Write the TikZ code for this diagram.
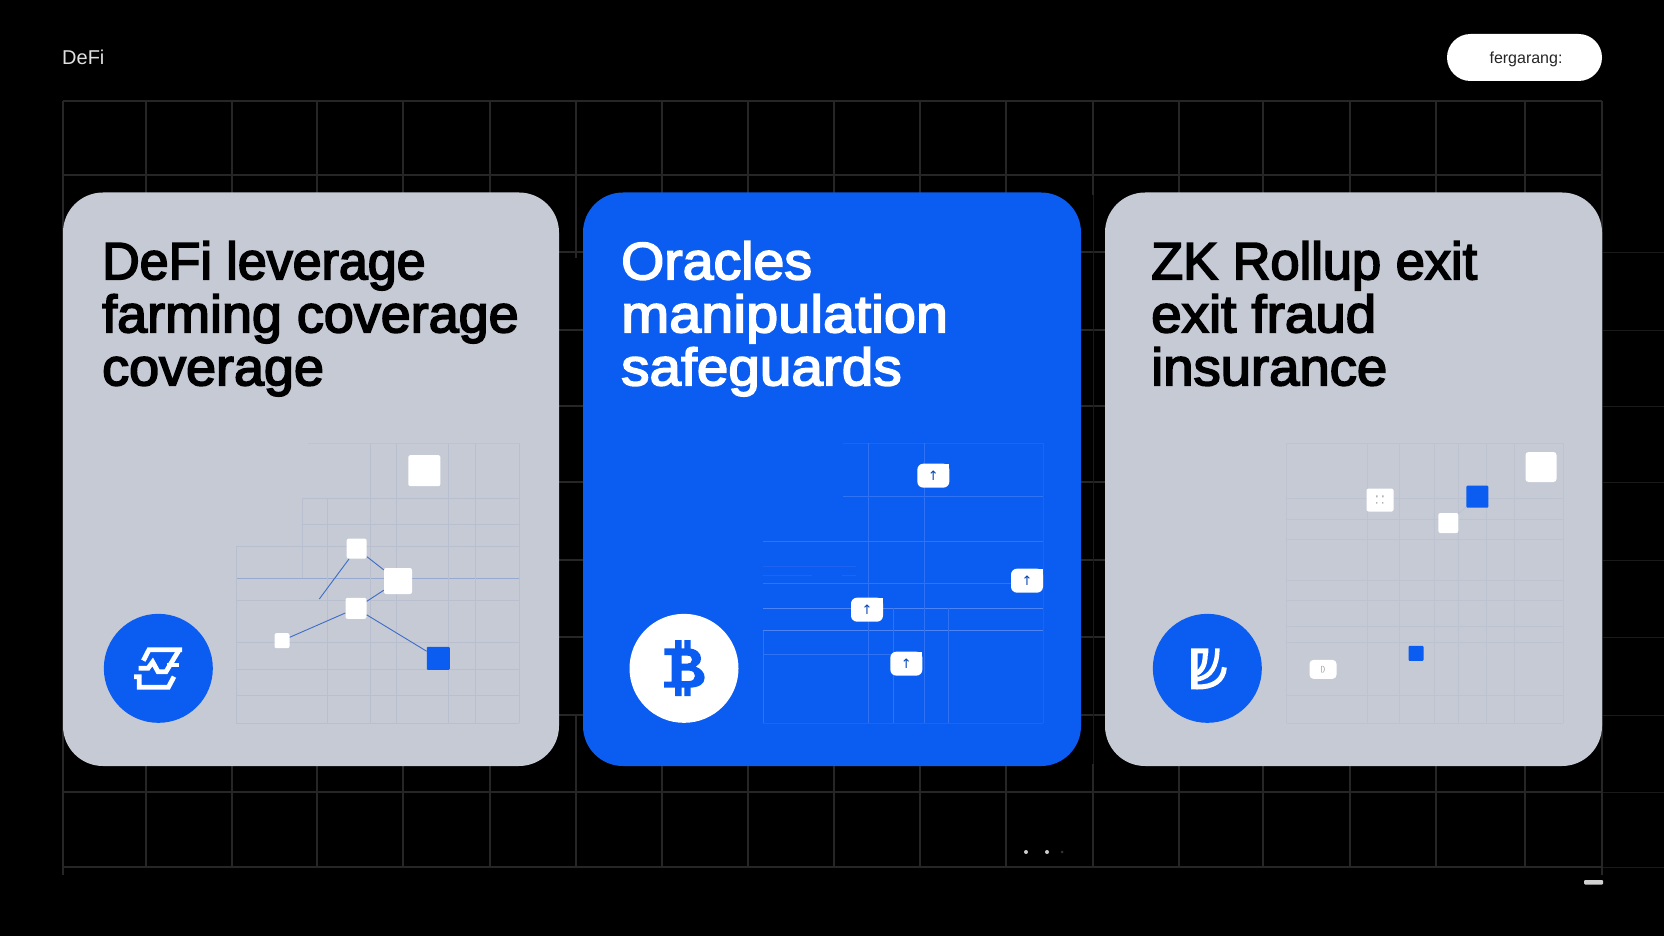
\documentclass[tikz,border=0pt]{standalone}
\usepackage{fontspec}
\setmainfont{Liberation Sans}
\newfontfamily\titlefont{Liberation Sans}
\newcommand{\stw}[2]{{\addfontfeature{FakeStretch=#1,FakeBold=3.2}#2}}
\newfontfamily\arrowfont{DejaVu Sans}
\definecolor{cardgray}{HTML}{C5CAD5}
\definecolor{cardblue}{HTML}{0B5CF0}
\definecolor{bggrid}{HTML}{262626}
\definecolor{bgfaint}{HTML}{1A1A1A}
\definecolor{minigray}{HTML}{B9BFCF}
\definecolor{minigrayfaint}{HTML}{BDC3D1}
\definecolor{miniblue}{HTML}{2F72F4}
\definecolor{minibluestrong}{HTML}{4C84F5}
\definecolor{minibluefaint}{HTML}{1C64F1}
\definecolor{linkblue}{HTML}{3F6CC6}
\tikzset{
  x=1pt,y=-1pt,
  bgline/.style={bggrid,line width=1.1pt},
  bglinefaint/.style={bgfaint,line width=1pt},
  cardshape/.style={rounded corners=40pt},
  titletext/.style={anchor=north west,inner sep=0pt,align=left,font=\titlefont\fontsize{52.6}{53}\selectfont},
  minigrid/.style={minigray,line width=0.6pt},
  minigridfaint/.style={minigrayfaint,line width=0.6pt},
  bluegrid/.style={miniblue,line width=0.7pt},
  bluegridstrong/.style={minibluestrong,line width=0.9pt},
  bluegridfaint/.style={minibluefaint,line width=0.6pt},
  squarewhite/.style={fill=white,rounded corners=2pt,inner sep=0pt},
  squareblue/.style={fill=cardblue,rounded corners=1pt,inner sep=0pt},
  link/.style={linkblue,line width=0.9pt},
  iconline/.style={white,line width=4.8pt,line cap=butt,line join=miter},
  arrowlabel/.style={inner sep=0pt,text=cardblue!75!black,font=\arrowfont\fontsize{13}{13}\selectfont},
}
\newcommand{\tagbox}[3]{%
  \fill[white,rounded corners=6pt] (#2-48,#3-36) rectangle (#2+48,#3+36);
  \fill[white] (#2+15,#3-36) rectangle (#2+48,#3-5);
  \node[arrowlabel] (#1) at (#2,#3) {↑};}
\begin{document}
\begin{tikzpicture}
\useasboundingbox (0,0) rectangle (1664,936);
\fill[black] (0,0) rectangle (1664,936);

% background grid
\foreach \yy in {101,175} \draw[bgline] (63,\yy) -- (1602,\yy);
\foreach \yy in {252,330,406,482,560,637,715,792,867} {
  \draw[bgline] (63,\yy) -- (1602,\yy);
  \draw[bglinefaint] (1602,\yy) -- (1664,\yy);}
\foreach \xx in {146,232,317,403,490,662,748,834,920,1006,1179,1263,1350,1436,1525}
  \draw[bgline] (\xx,101) -- (\xx,867);
\draw[bgline] (63,101) -- (63,875);
\draw[bgline] (1602,101) -- (1602,875);
\draw[bgline] (576,101) -- (576,258);
\draw[bgline] (576,715) -- (576,867);
\draw[bgline] (1093,101) -- (1093,195);
\draw[bglinefaint] (1093,195) -- (1093,764);
\draw[bgline] (1093,764) -- (1093,867);

% header
\node[anchor=base west,inner sep=0pt,text=white!88!black,font=\fontsize{20}{20}\selectfont] (brand) at (62,65) {DeFi};
\fill[white] (1447,34) [rounded corners=23.5pt] rectangle (1602,81);
\node[inner sep=0pt,text=black!85,font=\fontsize{16}{16}\selectfont] (pilltext) at (1526,59) {fergarang:};

% cards
\fill[cardgray,cardshape] (63,192.5) rectangle (559,766);
\fill[cardblue,cardshape] (583,192.5) rectangle (1081,766);
\fill[cardgray,cardshape] (1105,192.5) rectangle (1602,766);

\node[titletext,text=black] (t1) at (102,241) {\stw{.988}{DeFi leverage}\\\stw{1.025}{farming coverage}\\\stw{1.025}{coverage}};
\node[titletext,text=white] (t2) at (621,241) {\stw{1.053}{Oracles}\\\stw{1.096}{manipulation}\\\stw{1.078}{safeguards}};
\node[titletext,text=black] (t3) at (1151,241) {\stw{.996}{ZK Rollup exit}\\\stw{1.04}{exit fraud}\\\stw{1.035}{insurance}};

% ---- card 1 detail (local units = 1/3 px)
\begin{scope}[shift={(80,420)},scale=1/3]
  \draw[minigridfaint] (685,70) -- (1318,70);
  \foreach \yy in {235,312} \draw[minigrid] (668,\yy) -- (1318,\yy);
  \foreach \yy in {378,540,668,748,826,910} \draw[minigrid] (468,\yy) -- (1318,\yy);
  \draw[minigrid,linkblue!35!cardgray] (468,475) -- (1318,475);
  \draw[minigrid] (468,378) -- (468,910);
  \draw[minigrid] (668,235) -- (668,475);
  \draw[minigrid] (742,235) -- (742,910);
  \foreach \xx in {870,948,1106,1187,1318} \draw[minigrid] (\xx,70) -- (\xx,910);
  \node[squarewhite,minimum width=32pt,minimum height=31pt] (n1big) at (1033,152) {};
  \node[squarewhite,minimum width=20pt,minimum height=20pt] (n1a) at (830,386) {};
  \node[squarewhite,minimum width=28pt,minimum height=26pt] (n1b) at (954,483) {};
  \node[squarewhite,minimum width=21pt,minimum height=21pt] (n1c) at (828,565) {};
  \node[squarewhite,minimum width=15pt,minimum height=15pt] (n1d) at (606,662) {};
  \node[squareblue,minimum width=23pt,minimum height=23pt] (n1e) at (1075,715) {};
  \coordinate (n1free) at (718,537);
  \draw[link] (n1a) -- (n1free);
  \draw[link] (n1a) -- (n1b);
  \draw[link] (n1b) -- (n1c);
  \draw[link] (n1d) -- (n1c);
  \draw[link] (n1c) -- (n1e);
  \node[circle,fill=cardblue,minimum size=109pt,inner sep=0pt] (icon1) at (235,745) {};
  \draw[iconline] (306,689) -- (207,689) -- (190,722);
  \draw[iconline] (176,745) -- (204,745) -- (218,726) -- (234,755) -- (258,755) -- (296,692);
  \draw[iconline] (262,735) -- (298,735);
  \draw[iconline] (162,770) -- (178,770) -- (178,802) -- (265,802) -- (282,770);
\end{scope}

% ---- card 2 detail
\begin{scope}[shift={(600,420)},scale=1/3]
  \draw[bluegridfaint] (730,70) -- (1330,70);
  \draw[bluegrid] (730,230) -- (1330,230);
  \draw[bluegrid] (490,365) -- (1330,365);
  \draw[bluegridfaint] (490,438) -- (768,438);
  \draw[bluegridfaint] (490,465) -- (635,465);
  \draw[bluegridfaint] (725,465) -- (768,465);
  \draw[bluegrid] (490,491) -- (1330,491);
  \draw[bluegridstrong] (490,565) -- (1330,565);
  \draw[bluegridstrong] (490,632) -- (1330,632);
  \draw[bluegrid] (490,702) -- (880,702);
  \draw[bluegridfaint] (490,910) -- (1330,910);
  \draw[bluegrid] (490,632) -- (490,910);
  \draw[bluegrid] (805,70) -- (805,910);
  \draw[bluegrid] (880,565) -- (880,910);
  \draw[bluegrid] (973,70) -- (973,910);
  \draw[bluegrid] (1046,565) -- (1046,910);
  \draw[bluegridfaint] (1330,70) -- (1330,910);
  \tagbox{tag1}{1000}{167}
  \tagbox{tag2}{1281}{482}
  \tagbox{tag3}{801}{569}
  \tagbox{tag4}{919}{731}
  \node[circle,fill=white,minimum size=109pt,inner sep=0pt] (icon2) at (252,745) {};
  \fill[cardblue,even odd rule] (193,685) -- (262,685) .. controls (290,685) and (303,700) .. (303,715)
    .. controls (303,728) and (295,736) .. (287,740) .. controls (302,745) and (314,757) .. (314,773)
    .. controls (314,792) and (296,803) .. (268,803) -- (192,803) -- (192,785) -- (215,785) -- (215,705) -- (193,705) -- cycle
    (245,707) -- (262,707) .. controls (272,707) and (276,712) .. (276,719) .. controls (276,727) and (270,731) .. (262,731) -- (245,731) -- cycle
    (245,752) -- (268,752) .. controls (280,752) and (285,760) .. (285,768) .. controls (285,777) and (278,783) .. (268,783) -- (245,783) -- cycle;
  \fill[cardblue] (225,660) rectangle (245,690) (253,660) rectangle (272,690) (225,800) rectangle (245,828) (253,800) rectangle (272,828);
\end{scope}

% ---- card 3 detail
\begin{scope}[shift={(1130,420)},scale=1/3]
  \foreach \yy in {70,235,298,358,482,540,618,668,826,910} \draw[minigridfaint] (470,\yy) -- (1300,\yy);
  \foreach \xx in {470,712,808,912,985,1068,1153,1300} \draw[minigridfaint] (\xx,70) -- (\xx,910);
  \node[squarewhite,rounded corners=3pt,minimum width=31pt,minimum height=30pt] (n3big) at (1233,141) {};
  \node[squareblue,minimum width=22pt,minimum height=22pt] (n3b) at (1042,230) {};
  \node[squarewhite,minimum width=20pt,minimum height=20pt] (n3w) at (955,309) {};
  \draw[minigray,line width=.5pt] (n3w) -- (n3b);
  \node[squarewhite,minimum width=27pt,minimum height=23pt] (n3tag) at (750,240) {};
  \fill[black!30] (738,226) rectangle +(5,6) (756,226) rectangle +(5,6) (738,246) rectangle +(4,5) (756,246) rectangle +(4,5);
  \node[squarewhite,rounded corners=4pt,minimum width=27pt,minimum height=19pt,text=black!45,font=\fontsize{7}{7}\selectfont] (n3tagb) at (579,748) {[)};
  \node[squareblue,minimum width=15pt,minimum height=15pt] (n3s) at (858,700) {};
  \node[circle,fill=cardblue,minimum size=109pt,inner sep=0pt] (icon3) at (232,745) {};
  \fill[white] (183,685) rectangle (203,808) (183,685) rectangle (235,700);
  \draw[white,line width=5pt] (226,695) .. controls (226,725) and (222,748) .. (200,760);
  \draw[white,line width=4.5pt] (262,685) .. controls (262,735) and (245,772) .. (200,778);
  \draw[white,line width=5pt] (283,742) .. controls (280,782) and (250,802) .. (200,801);
\end{scope}

% footer marks
\node[circle,fill=white!80!black,minimum size=4pt,inner sep=0pt] (dot1) at (1026,852) {};
\node[circle,fill=white!80!black,minimum size=4pt,inner sep=0pt] (dot2) at (1047,852) {};
\node[circle,fill=white!20!black,minimum size=3pt,inner sep=0pt] (dot3) at (1062,852) {};
\fill[white!82!black,rounded corners=1pt] (1584,880) rectangle (1603,884.5);
\end{tikzpicture}
\end{document}
